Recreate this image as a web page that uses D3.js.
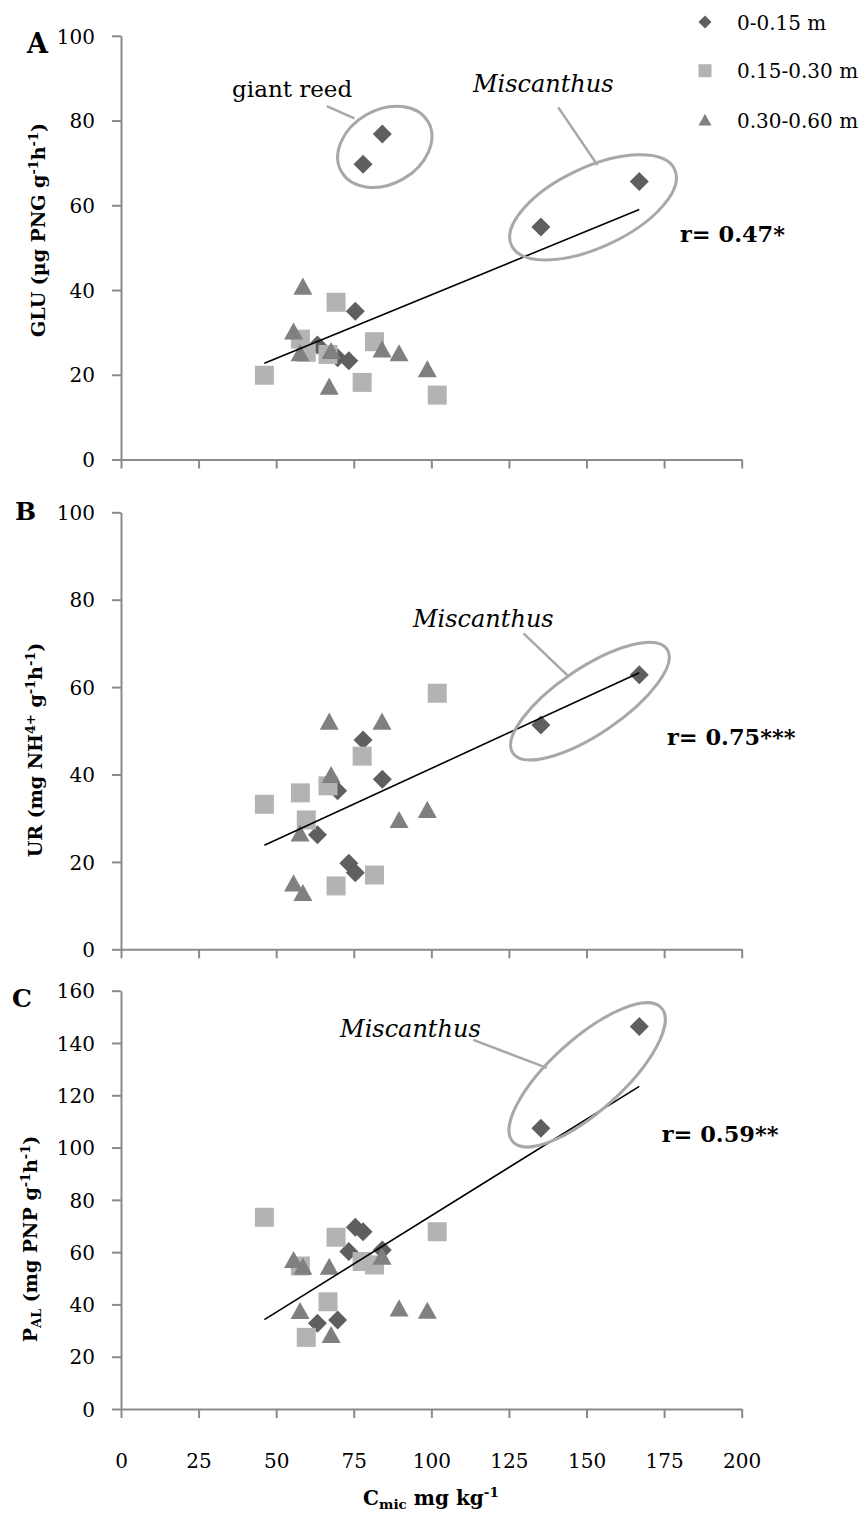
<!DOCTYPE html>
<html><head><meta charset="utf-8">
<script src="https://cdn.jsdelivr.net/npm/d3@7"></script>
<style>body{margin:0;background:#fff}svg{display:block}</style>
</head><body>
<script>
// ---- data ----
const depthLabels = ["0-0.15 m", "0.15-0.30 m", "0.30-0.60 m"];
const xTicks = [0, 25, 50, 75, 100, 125, 150, 175, 200];
const yTicksAB = [0, 20, 40, 60, 80, 100];
const yTicksC = [0, 20, 40, 60, 80, 100, 120, 140, 160];
// Cmic (x) per depth
const xD = [63.3, 69.8, 73.4, 75.5, 78.0, 84.2, 135.3, 167.0];
const xS = [46.2, 57.8, 59.7, 66.7, 69.3, 77.7, 81.7, 101.9];
const xT = [55.6, 57.7, 58.6, 67.1, 67.7, 84.1, 89.6, 98.7];
// GLU
const gluD = [27.0, 24.0, 23.3, 35.0, 69.7, 76.8, 54.9, 65.6];
const gluS = [19.9, 28.4, 25.3, 24.8, 37.1, 18.2, 27.8, 15.2];
const gluT = [30.2, 25.1, 40.8, 17.2, 25.6, 26.0, 25.1, 21.3];
// UR
const urD = [26.2, 36.3, 19.7, 17.5, 47.9, 38.9, 51.3, 62.8];
const urS = [33.2, 35.8, 29.6, 37.4, 14.5, 44.2, 17.0, 58.6];
const urT = [15.1, 26.5, 12.9, 52.1, 39.9, 52.1, 29.6, 31.9];
// PAL
const palD = [32.8, 34.0, 60.2, 69.5, 67.8, 60.8, 107.4, 146.3];
const palS = [73.3, 54.7, 27.4, 41.0, 65.7, 56.4, 55.1, 67.8];
const palT = [57.0, 37.5, 54.4, 54.4, 28.3, 58.3, 38.5, 37.6];
// regression lines (x ends, y ends)
const trendX = [46.2, 167.0];
const gluTrend = [22.7, 59.0];
const urTrend = [23.8, 63.3];
const palTrend = [34.2, 123.4];
const rLabels = ["r= 0.47*", "r= 0.75***", "r= 0.59**"];

// ---- layout ----
const W = 868, H = 1515;
const FONT = "'DejaVu Serif', 'Liberation Serif', serif";
const C_D = "#5f5f5f", C_S = "#b3b3b3", C_T = "#808080", AX = "#8a8a8a", ANN = "#a8a8a8";
const svg = d3.select("body").append("svg").attr("width", W).attr("height", H)
  .style("font-family", FONT);
svg.append("rect").attr("width", W).attr("height", H).attr("fill", "#fff");

const x = d3.scaleLinear().domain([0, 200]).range([121, 741.7]);

function richText(sel, segs, size) {
  let cur = 0;
  segs.forEach(s => {
    const target = s.k === "sup" ? -0.38 * size : s.k === "sub" ? 0.22 * size : 0;
    const t = sel.append("tspan").text(s.t).attr("dy", target - cur);
    if (s.k) t.attr("font-size", size * 0.68);
    cur = target;
  });
}

const shapes = {
  d: (cx, cy, r) => `M${cx},${cy - r}L${cx + r},${cy}L${cx},${cy + r}L${cx - r},${cy}Z`,
  s: (cx, cy, r) => `M${cx - r},${cy - r}h${2 * r}v${2 * r}h${-2 * r}Z`,
  t: (cx, cy, r) => `M${cx},${cy - r * 0.95}L${cx + r},${cy + r * 0.85}L${cx - r},${cy + r * 0.85}Z`
};

function panel(cfg) {
  const y = d3.scaleLinear().domain(cfg.ydom).range(cfg.yrange);
  const g = svg.append("g");
  // y axis
  const ya = g.append("g").attr("transform", `translate(${x(0)},0)`)
    .call(d3.axisLeft(y).tickValues(cfg.yticks).tickSize(9).tickPadding(17).tickSizeOuter(0));
  ya.select(".domain").attr("stroke", AX).attr("stroke-width", 2);
  ya.selectAll(".tick line").attr("stroke", AX).attr("stroke-width", 2);
  ya.selectAll(".tick text").attr("font-family", FONT).attr("font-size", 20).attr("fill", "#000")
    .attr("dy", "0.36em");
  // x axis
  const xa = g.append("g").attr("transform", `translate(0,${y(0)})`)
    .call(d3.axisBottom(x).tickValues(xTicks).tickSize(9).tickSizeOuter(0).tickPadding(36));
  xa.select(".domain").attr("stroke", AX).attr("stroke-width", 2);
  xa.selectAll(".tick line").attr("stroke", AX).attr("stroke-width", 2);
  xa.selectAll(".tick text").attr("font-family", FONT).attr("font-size", 20).attr("fill", "#000");
  if (!cfg.xlabels) xa.selectAll(".tick text").remove();

  // points: diamonds, squares, triangles
  const series = [
    {xs: xD, ys: cfg.d, c: C_D, f: shapes.d, r: 9.5},
    {xs: xS, ys: cfg.s, c: C_S, f: shapes.s, r: 9.5},
    {xs: xT, ys: cfg.t, c: C_T, f: shapes.t, r: 9.5}
  ];
  series.forEach(se => {
    g.append("g").selectAll("path").data(se.xs.map((v, i) => [v, se.ys[i]])).join("path")
      .attr("d", p => se.f(x(p[0]), y(p[1]), se.r)).attr("fill", se.c);
  });
  // trend
  g.append("line").attr("x1", x(trendX[0])).attr("y1", y(cfg.trend[0]))
    .attr("x2", x(trendX[1])).attr("y2", y(cfg.trend[1]))
    .attr("stroke", "#000").attr("stroke-width", 1.6);
  // annotations
  cfg.ann.forEach(a => {
    g.append("line").attr("x1", x(a.lead[0])).attr("y1", y(a.lead[1]))
      .attr("x2", x(a.lead[2])).attr("y2", y(a.lead[3]))
      .attr("stroke", ANN).attr("stroke-width", 2.5);
    g.append("ellipse").attr("cx", 0).attr("cy", 0).attr("rx", a.rx).attr("ry", a.ry)
      .attr("transform", `translate(${x(a.c[0])},${y(a.c[1])}) rotate(${a.rot})`)
      .attr("fill", "none").attr("stroke", ANN).attr("stroke-width", 3);
    g.append("text").attr("x", x(a.tp[0])).attr("y", y(a.tp[1]))
      .attr("font-size", a.fs).attr("font-style", a.italic ? "italic" : null)
      .text(a.label);
  });
  g.append("text").attr("x", x(cfg.rpos[0])).attr("y", y(cfg.rpos[1]))
    .attr("font-size", 22.5).attr("font-weight", "bold").text(cfg.rlabel);
  // panel letter
  g.append("text").attr("x", cfg.letter[1]).attr("y", cfg.letter[2])
    .attr("font-size", cfg.letter[3]).attr("font-weight", "bold").text(cfg.letter[0]);
  // y title
  const yt = g.append("text").attr("transform", `translate(${cfg.ytitle.x},${cfg.ytitle.cy}) rotate(-90)`)
    .attr("text-anchor", "middle").attr("font-size", 19).attr("font-weight", "bold");
  richText(yt, cfg.ytitle.segs, 19);
}

panel({
  ydom: [0, 100], yrange: [459.5, 35.8], yticks: yTicksAB, xlabels: false,
  d: gluD, s: gluS, t: gluT, trend: gluTrend,
  ann: [
    {label: "giant reed", tp: [35.8, 85.6], fs: 23, italic: false,
     c: [85.0, 73.8], rx: 50, ry: 37, rot: -30, lead: [66.3, 83.4, 75.2, 80.5]},
    {label: "Miscanthus", tp: [113.4, 86.7], fs: 24, italic: true,
     c: [152.1, 59.5], rx: 90, ry: 40, rot: -25, lead: [140.9, 83.1, 153.5, 69.5]}
  ],
  rpos: [180.1, 51.3], rlabel: rLabels[0],
  letter: ["A", 27, 53, 27],
  ytitle: {x: 45, cy: 230, segs: [{t: "GLU (µg PNG g"}, {t: "-1", k: "sup"}, {t: "h"}, {t: "-1", k: "sup"}, {t: ")"}]}
});

panel({
  ydom: [0, 100], yrange: [949.3, 512.3], yticks: yTicksAB, xlabels: false,
  d: urD, s: urS, t: urT, trend: urTrend,
  ann: [
    {label: "Miscanthus", tp: [94.1, 73.8], fs: 24, italic: true,
     c: [151.1, 56.8], rx: 93, ry: 33, rot: -34, lead: [129.7, 72.3, 144.1, 62.5]}
  ],
  rpos: [175.9, 46.8], rlabel: rLabels[1],
  letter: ["B", 15, 520, 25],
  ytitle: {x: 42, cy: 750, segs: [{t: "UR (mg NH"}, {t: "4+", k: "sup"}, {t: "  g"}, {t: "-1", k: "sup"}, {t: "h"}, {t: "-1", k: "sup"}, {t: ")"}]}
});

panel({
  ydom: [0, 160], yrange: [1409, 990.7], yticks: yTicksC, xlabels: true,
  d: palD, s: palS, t: palT, trend: palTrend,
  ann: [
    {label: "Miscanthus", tp: [70.6, 142.4], fs: 24, italic: true,
     c: [150.2, 127.8], rx: 100, ry: 36, rot: -42, lead: [113.5, 141.2, 137.2, 130.5]}
  ],
  rpos: [174.2, 102.3], rlabel: rLabels[2],
  letter: ["C", 12, 1007, 25],
  ytitle: {x: 37, cy: 1239, segs: [{t: "P"}, {t: "AL", k: "sub"}, {t: " (mg PNP g"}, {t: "-1", k: "sup"}, {t: "h"}, {t: "-1", k: "sup"}, {t: ")"}]}
});

// x title
const xt = svg.append("text").attr("x", 431).attr("y", 1505).attr("text-anchor", "middle")
  .attr("font-size", 20).attr("font-weight", "bold");
richText(xt, [{t: "C"}, {t: "mic", k: "sub"}, {t: " mg kg"}, {t: "-1", k: "sup"}], 20);

// legend
const legY = [22, 70.7, 120];
const legShapes = [shapes.d, shapes.s, shapes.t];
const legColors = [C_D, C_S, C_T];
const leg = svg.append("g");
depthLabels.forEach((lab, i) => {
  leg.append("path").attr("d", legShapes[i](705, legY[i], 6.5)).attr("fill", legColors[i]);
  leg.append("text").attr("x", 737).attr("y", legY[i] + 7.5).attr("font-size", 20).text(lab);
});
</script>
</body></html>
